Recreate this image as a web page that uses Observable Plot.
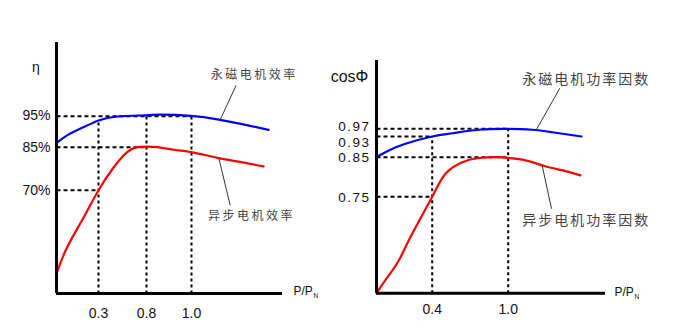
<!DOCTYPE html>
<html>
<head>
<meta charset="utf-8">
<script src="https://cdn.jsdelivr.net/npm/d3@7"></script>
<script src="https://cdn.jsdelivr.net/npm/@observablehq/plot@0.6"></script>
<style>
  html, body { margin: 0; padding: 0; background: #fff; }
  #wrap { display: flex; flex-direction: row; width: 695px; height: 331px; }
  g[aria-description="cjk-left"] text { letter-spacing: 2.5px; }
  g[aria-description="cjk-right"] text { letter-spacing: 2px; }
  g[aria-description="ytick-right"] text { letter-spacing: 1.5px; }
</style>
</head>
<body>
<div id="wrap"></div>
<script>
// ---------- Left panel: efficiency η vs P/PN ----------
const effTicksX = [0.3, 0.8, 1.0];
const effTicksY = [70, 85, 95];
const pmEffX = [0, 0.076, 0.195, 0.30, 0.495, 0.797, 0.862, 0.998, 1.114, 1.218, 1.339];
const pmEff  = [86.3, 88.8, 91.5, 93.6, 94.9, 95.3, 95.5, 95.1, 94.0, 92.5, 90.6];
const asEffX = [0, 0.076, 0.195, 0.30, 0.459, 0.599, 0.703, 0.797, 0.848, 0.921, 0.998, 1.114, 1.218, 1.317];
const asEff  = [40.9, 50.1, 60.6, 70, 78, 83.3, 85, 85.2, 85, 84.1, 83.3, 81.3, 79.8, 78.3];
const effLabels = ["永磁电机效率", "异步电机效率"];

// ---------- Right panel: power factor cosΦ vs P/PN ----------
const pfTicksX = [0.4, 1.0];
const pfTicksY = [0.75, 0.85, 0.93, 0.97];
const pmPfX = [0, 0.088, 0.208, 0.4, 0.558, 0.768, 1.0, 1.185, 1.339, 1.565];
const pmPf  = [0.85, 0.876, 0.902, 0.93, 0.947, 0.965, 0.97, 0.965, 0.952, 0.93];
const asPfX = [0, 0.088, 0.16, 0.256, 0.4, 0.505, 0.637, 0.768, 0.926, 1.0, 1.133, 1.287, 1.441, 1.557];
const asPf  = [0, 0.138, 0.254, 0.462, 0.75, 0.808, 0.837, 0.848, 0.85, 0.848, 0.842, 0.827, 0.815, 0.804];
const pfLabels = ["永磁电机功率因数", "异步电机功率因数"];

const NUM_FONT = "'Liberation Sans', Arial, sans-serif";
const CJK_FONT = "'Noto Sans CJK SC', sans-serif";

function panel(cfg) {
  const pm = cfg.pmX.map((x, i) => ({x, y: cfg.pmY[i]}));
  const as = cfg.asX.map((x, i) => ({x, y: cfg.asY[i]}));
  const [x0, xEnd] = [cfg.xDomain[0], cfg.xDomain[cfg.xDomain.length - 1]];
  const [y0, yTop] = [cfg.yDomain[0], cfg.yDomain[cfg.yDomain.length - 1]];
  const yTickMarks = cfg.ticksY.map(t =>
    Plot.text([t], {x: x0, y: d => d, dx: cfg.yTickDx, dy: (cfg.yTickNudge[t] || 0), text: cfg.yFormat, textAnchor: "end",
      fontFamily: NUM_FONT, fontSize: cfg.yTickSize, fill: "#111", ariaDescription: cfg.yTickClass}));
  return Plot.plot({
    width: cfg.width, height: 331, margin: 0,
    style: {background: "white", overflow: "visible"},
    x: {type: "linear", domain: cfg.xDomain, range: cfg.xRange, axis: null},
    y: {type: "linear", domain: cfg.yDomain, range: cfg.yRange, axis: null},
    marks: [
      // dashed guides
      Plot.link(cfg.hGuides, {x1: x0, x2: "x2", y1: "y", y2: "y", stroke: "#000", strokeWidth: 2, strokeDasharray: "4,3"}),
      Plot.link(cfg.vGuides, {x1: "x", x2: "x", y1: y0, y2: "y2", stroke: "#000", strokeWidth: 2, strokeDasharray: "3,3"}),
      // curves
      Plot.line(pm, {x: "x", y: "y", stroke: "#0000ff", strokeWidth: 2.2, curve: "natural"}),
      Plot.line(as, {x: "x", y: "y", stroke: "#ff0000", strokeWidth: 2.2, curve: "natural"}),
      // axes
      Plot.ruleX([x0], {y1: y0, y2: yTop, stroke: "#000", strokeWidth: 3}),
      Plot.ruleY([y0], {x1: x0, x2: xEnd, stroke: "#000", strokeWidth: 3}),
      // tick labels
      Plot.text(cfg.ticksX, {x: d => d, y: y0, dy: cfg.xTickDy, text: d => d.toFixed(1), fontFamily: NUM_FONT, fontSize: 14, fill: "#111"}),
      ...yTickMarks,
      // axis titles
      Plot.text([cfg.yTitle], {x: x0, y: cfg.yTitleY, dx: cfg.yTitleDx, text: d => d, fontFamily: NUM_FONT, fontSize: cfg.yTitleSize, fill: "#111"}),
      Plot.text(["P/P"], {x: xEnd, y: y0, dx: cfg.pDx, dy: cfg.pDy, text: d => d, textAnchor: "start", fontFamily: NUM_FONT, fontSize: 12, fill: "#111"}),
      Plot.text(["N"], {x: xEnd, y: y0, dx: cfg.pDx + 20, dy: cfg.pDy + 5, text: d => d, textAnchor: "start", fontFamily: NUM_FONT, fontSize: 6.5, fill: "#111"}),
      // leader lines and series labels
      Plot.link(cfg.leaders, {x1: "x1", y1: "y1", x2: "x2", y2: "y2", stroke: "#333", strokeWidth: 1}),
      Plot.text(cfg.labelPos, {x: "x", y: "y", text: "t", textAnchor: "start", fontFamily: CJK_FONT, fontSize: cfg.labelSize, fill: "#444", ariaDescription: cfg.labelClass})
    ]
  });
}

const left = panel({
  width: 345,
  xDomain: [0, 0.3, 0.8, 1.0, 1.4], xRange: [56, 98, 146, 191, 282],
  yDomain: [34, 70, 85, 95, 119], yRange: [293, 189.7, 146.7, 115.7, 42],
  pmX: pmEffX, pmY: pmEff, asX: asEffX, asY: asEff,
  hGuides: [{y: 95, x2: 1.0}, {y: 85, x2: 0.8}, {y: 70, x2: 0.3}],
  vGuides: [{x: 0.3, y2: 93.6}, {x: 0.8, y2: 95}, {x: 1.0, y2: 95}],
  ticksX: effTicksX, ticksY: effTicksY, xTickDy: 20, yTickDx: -6, yTickSize: 14, yTickNudge: {95: -0.5},
  yFormat: d => d + "%", yTickClass: "ytick-left",
  yTitle: "η", yTitleY: 110.9, yTitleDx: -20.5, yTitleSize: 14,
  pDx: 11, pDy: -2.5,
  leaders: [{x1: 1.196, y1: 105, x2: 1.126, y2: 93.84}, {x1: 1.121, y1: 80.95, x2: 1.17, y2: 64.67}],
  labelPos: [{x: 1.085, y: 108.25, t: effLabels[0]}, {x: 1.072, y: 60.8, t: effLabels[1]}],
  labelSize: 12, labelClass: "cjk-left"
});

const right = panel({
  width: 350,
  xDomain: [0, 0.4, 1.0, 1.75], xRange: [31, 86.7, 162.7, 260],
  yDomain: [0, 0.75, 0.85, 0.93, 0.97, 1.32], yRange: [292.7, 196.3, 156.7, 136, 128.3, 60],
  pmX: pmPfX, pmY: pmPf, asX: asPfX, asY: asPf,
  hGuides: [{y: 0.97, x2: 1.0}, {y: 0.93, x2: 0.4}, {y: 0.85, x2: 1.0}, {y: 0.75, x2: 0.4}],
  vGuides: [{x: 0.4, y2: 0.93}, {x: 1.0, y2: 0.97}],
  ticksX: pfTicksX, ticksY: pfTicksY, xTickDy: 16.5, yTickDx: -6, yTickSize: 13.5, yTickNudge: {0.97: -2.5, 0.93: 6, 0.85: 0.5, 0.75: 0.5},
  yFormat: d => d.toFixed(2), yTickClass: "ytick-right",
  yTitle: "cosΦ", yTitleY: 1.238, yTitleDx: -27, yTitleSize: 16,
  pDx: 9, pDy: -1,
  leaders: [{x1: 1.398, y1: 1.178, x2: 1.218, y2: 0.966}, {x1: 1.262, y1: 0.829, x2: 1.334, y2: 0.657}],
  labelPos: [{x: 1.108, y: 1.221, t: pfLabels[0]}, {x: 1.108, y: 0.566, t: pfLabels[1]}],
  labelSize: 14, labelClass: "cjk-right"
});

document.getElementById("wrap").append(left, right);
</script>
</body>
</html>
